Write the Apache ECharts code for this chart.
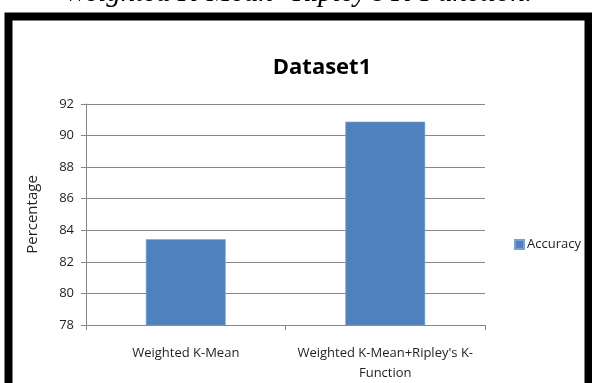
<!DOCTYPE html>
<html>
<head>
<meta charset="utf-8">
<style>
  html, body { margin: 0; padding: 0; background: #ffffff; }
  #chart { width: 592px; height: 383px; }
</style>
<script src="https://cdn.jsdelivr.net/npm/echarts@6/dist/echarts.min.js"></script>
</head>
<body>
<div id="chart"></div>
<script>
// Accuracy per clustering method on Dataset1
const categories = ["Weighted K-Mean", "Weighted K-Mean+Ripley's K-Function"];
const accuracy = [83.43, 90.88];
const seriesName = "Accuracy";
const yMin = 78, yMax = 92, yStep = 2;
const chartTitle = "Dataset1";
const yAxisTitle = "Percentage";
const captionAbove = "Weighted K-Mean+Ripley's K-Function.";

const textColor = "#1f1f1f";
const lineColor = "#868686";
const barColor = "#4F81BD";

const chart = echarts.init(document.getElementById("chart"), null, { renderer: "canvas" });

chart.setOption({
  backgroundColor: "#ffffff",
  animation: false,
  title: {
    text: chartTitle,
    left: 317,
    textAlign: "center",
    top: 52,
    textStyle: { fontFamily: "Open Sans", fontWeight: "bold", fontSize: 22, color: "#000000" }
  },
  legend: {
    left: 509,
    top: 233,
    itemWidth: 9,
    itemHeight: 9,
    itemGap: 4,
    icon: "rect",
    data: [seriesName],
    textStyle: { fontFamily: "Open Sans", fontSize: 13, color: textColor, padding: [0, 0, 0, -2] }
  },
  grid: { left: 86, right: 107, top: 104, bottom: 58 },
  xAxis: {
    type: "category",
    data: categories,
    axisLine: { show: true, lineStyle: { color: lineColor, width: 1 } },
    axisTick: { show: true, length: 5, alignWithLabel: false, lineStyle: { color: lineColor } },
    axisLabel: {
      margin: 18,
      interval: 0,
      fontFamily: "Open Sans",
      fontSize: 13,
      lineHeight: 20,
      color: textColor,
      // break the long label after its "K-" hyphen, as a two-line caption
      formatter: function (v) { return v.replace("Ripley's K-", "Ripley's K-\n"); }
    },
    splitLine: { show: false }
  },
  yAxis: {
    type: "value",
    min: yMin,
    max: yMax,
    interval: yStep,
    name: yAxisTitle,
    nameLocation: "middle",
    nameRotate: 90,
    nameGap: 46,
    nameTextStyle: { fontFamily: "Open Sans", fontSize: 15, color: textColor },
    axisLine: { show: true, lineStyle: { color: lineColor, width: 1 } },
    axisTick: { show: true, length: 5, lineStyle: { color: lineColor } },
    axisLabel: { margin: 12, fontFamily: "Open Sans", fontSize: 13, color: textColor },
    splitLine: { show: true, lineStyle: { color: lineColor, width: 1 } }
  },
  series: [{
    name: seriesName,
    type: "bar",
    data: accuracy,
    barWidth: "40%",
    itemStyle: { color: barColor, borderColor: "#7a9fd0", borderWidth: 0.6 }
  }],
  graphic: [
    {
      type: "rect",
      silent: true,
      z: 100,
      shape: { x: 8.5, y: 16.5, width: 580, height: 420 },
      style: { fill: "none", stroke: "#000000", lineWidth: 8 }
    },
    {
      type: "text",
      silent: true,
      z: 100,
      x: 298,
      y: -7,
      style: {
        text: captionAbove,
        fontFamily: "Liberation Serif",
        fontStyle: "italic",
        fontSize: 29,
        fill: "#000000",
        align: "center",
        verticalAlign: "middle"
      }
    }
  ]
});
</script>
</body>
</html>
